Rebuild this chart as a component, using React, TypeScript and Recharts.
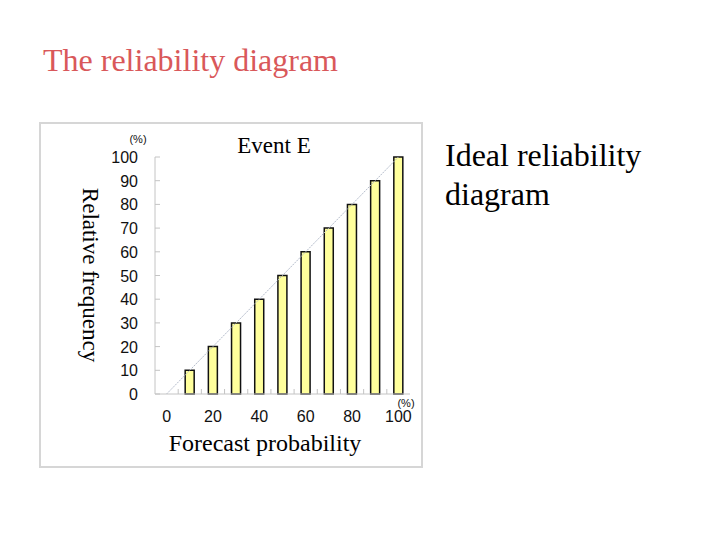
import React from "react";
import { ComposedChart, Bar, Line, XAxis, YAxis } from "recharts";

const forecast = [0, 10, 20, 30, 40, 50, 60, 70, 80, 90, 100];
const observed = [0, 10, 20, 30, 40, 50, 60, 70, 80, 90, 100];
const yTicks = [0, 10, 20, 30, 40, 50, 60, 70, 80, 90, 100];
const xLabels = [0, 20, 40, 60, 80, 100];

const data = forecast.map((p, i) => ({ p, freq: observed[i], ideal: p }));

const SERIF = "'Liberation Serif', 'Times New Roman', serif";
const SANS = "'Liberation Sans', Arial, sans-serif";
const AXIS_GREY = "#c4c4c4";

function YTick({ x, y, payload }: any) {
  return (
    <g>
      <line x1={x + 17} x2={x + 22} y1={y} y2={y} stroke={AXIS_GREY} />
      <text x={x} y={y} dy={6} textAnchor="end" fontFamily={SANS} fontSize={16} fill="#111">
        {payload.value}
      </text>
    </g>
  );
}

function XTick({ x, y, payload, index }: any) {
  const show = xLabels.includes(payload.value);
  return (
    <g>
      {index < forecast.length - 1 && (
        <line x1={x + 11.6} x2={x + 11.6} y1={y} y2={y - 5} stroke={AXIS_GREY} />
      )}
      {show && (
        <text x={x} y={y + 27.5} textAnchor="middle" fontFamily={SANS} fontSize={16} fill="#111">
          {payload.value}
        </text>
      )}
    </g>
  );
}

export default function App() {
  return (
    <div style={{ position: "absolute", left: 0, top: 0, width: 720, height: 540, background: "#fff" }}>
      {/* frame */}
      <div
        style={{
          position: "absolute", left: 39, top: 122, width: 380, height: 342,
          border: "2px solid #d6d6d6",
        }}
      />
      <div style={{ position: "absolute", left: 40, top: 123 }}>
        <ComposedChart width={380} height={342} data={data} margin={{ top: 34, right: 10, left: 0, bottom: 0 }}>
          <XAxis
            dataKey="p"
            type="category"
            height={71}
            interval={0}
            tickSize={0}
            tickMargin={0}
            stroke={AXIS_GREY}
            tick={<XTick />}
          />
          <YAxis
            type="number"
            domain={[0, 100]}
            ticks={yTicks}
            width={115}
            tickSize={0}
            tickMargin={17}
            stroke={AXIS_GREY}
            tick={<YTick />}
          />
          <Line
            dataKey="ideal"
            type="linear"
            stroke="#b4bccb"
            strokeWidth={1}
            strokeDasharray="2 1"
            dot={false}
            isAnimationActive={false}
          />
          <Bar dataKey="freq" barSize={9} fill="#ffff9c" stroke="#111" strokeWidth={1.5} isAnimationActive={false} />
        </ComposedChart>
      </div>
      <svg width={720} height={540} style={{ position: "absolute", left: 0, top: 0, pointerEvents: "none" }}>
        <text x={43} y={71} fontFamily={SERIF} fontSize={32} fill="#d9585a">
          The reliability diagram
        </text>
        <text x={445} y={166} fontFamily={SERIF} fontSize={32} fill="#000">
          Ideal reliability
        </text>
        <text x={445} y={205} fontFamily={SERIF} fontSize={32} fill="#000">
          diagram
        </text>
        <text x={274} y={153} textAnchor="middle" fontFamily={SERIF} fontSize={23} fill="#000">
          Event E
        </text>
        <text x={265} y={451} textAnchor="middle" fontFamily={SERIF} fontSize={24} fill="#000">
          Forecast probability
        </text>
        <text
          transform="translate(83,275) rotate(90)"
          textAnchor="middle"
          fontFamily={SERIF}
          fontSize={23}
          fill="#000"
        >
          Relative frequency
        </text>
        <text x={138} y={143} textAnchor="middle" fontFamily={SANS} fontSize={11} fill="#111">
          (%)
        </text>
        <text x={406} y={407} textAnchor="middle" fontFamily={SANS} fontSize={11} fill="#111">
          (%)
        </text>
      </svg>
    </div>
  );
}
